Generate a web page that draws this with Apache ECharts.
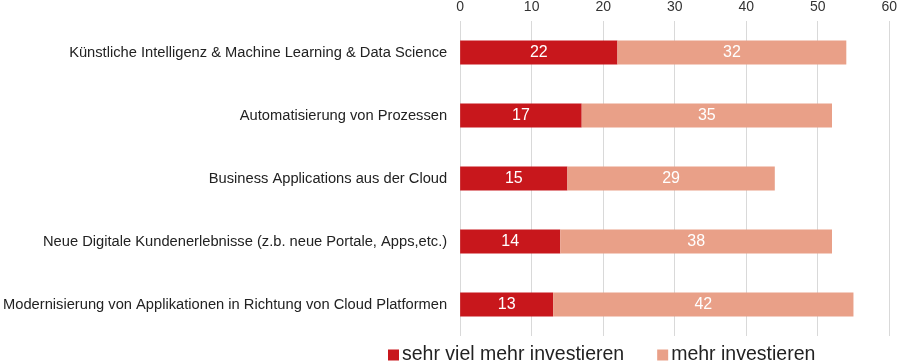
<!DOCTYPE html>
<html><head><meta charset="utf-8">
<script src="https://cdn.jsdelivr.net/npm/echarts@6/dist/echarts.min.js"></script>
<style>html,body{margin:0;padding:0;background:#fff}#c{width:900px;height:363px}</style>
</head><body><div id="c"></div>
<script>
const categories = [
  "Künstliche Intelligenz & Machine Learning & Data Science",
  "Automatisierung von Prozessen",
  "Business Applications aus der Cloud",
  "Neue Digitale Kundenerlebnisse (z.b. neue Portale, Apps,etc.)",
  "Modernisierung von Applikationen in Richtung von Cloud Platformen"
];
const sehrVielMehr = [22, 17, 15, 14, 13];
const mehr = [32, 35, 29, 38, 42];
const seriesNames = ["sehr viel mehr investieren", "mehr investieren"];

const chart = echarts.init(document.getElementById('c'), null, {renderer: 'canvas'});
const lbl = {show: true, color: '#fff', fontSize: 16, fontFamily: 'Liberation Sans, Arial, sans-serif'};
chart.setOption({
  animation: false,
  textStyle: {fontFamily: 'Liberation Sans, Arial, sans-serif'},
  grid: {left: 459, right: 8, top: 16, bottom: 27, containLabel: false},
  legend: {
    top: 340, left: 383, itemWidth: 11, itemHeight: 11, itemGap: 33,
    icon: 'rect',
    textStyle: {fontSize: 19.5, color: '#222', padding: [0,0,0,-2]},
    data: seriesNames
  },
  xAxis: {
    type: 'value', position: 'top', min: 0, max: 60, interval: 10,
    axisLine: {show: false}, axisTick: {show: false},
    axisLabel: {fontSize: 14, color: '#333', margin: 7},
    splitLine: {lineStyle: {color: '#d9d9d9', width: 1}}
  },
  yAxis: {
    type: 'category', inverse: true, data: categories,
    axisLine: {show: false}, axisTick: {show: false},
    axisLabel: {fontSize: 14.7, color: '#222', margin: 13}
  },
  series: [
    {name: seriesNames[0], type: 'bar', stack: 's', data: sehrVielMehr, barWidth: 24,
     itemStyle: {color: '#C8171C'}, label: lbl},
    {name: seriesNames[1], type: 'bar', stack: 's', data: mehr, barWidth: 24,
     itemStyle: {color: '#E9A088'}, label: lbl}
  ]
});
</script></body></html>
